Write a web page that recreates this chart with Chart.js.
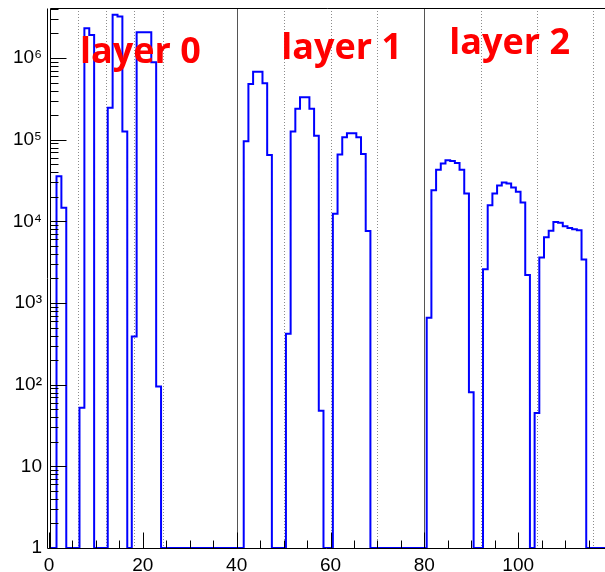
<!DOCTYPE html>
<html><head><meta charset="utf-8">
<script src="https://cdn.jsdelivr.net/npm/chart.js@4.4.0/dist/chart.umd.min.js"></script>
<style>html,body{margin:0;padding:0;background:#fff;} #wrap{width:605px;height:572px;position:relative;}</style>
</head><body><div id="wrap"><canvas id="c" width="605" height="572"></canvas></div>
<script>
// ---- data ----
// each group: first bin lower edge, bin width, and bin contents
const groupStart    = [1.6, 6.5, 12.52, 17.64, 41.5, 50.5, 60.5, 80.5, 92.5, 103.5];
const groupBinWidth = [1.04, 1.04, 1.04, 1.04, 1, 1, 1, 1, 1, 1];
const groupCounts = [
  [35700, 14700],
  [52, 2.32e6, 1.92e6],
  [2.46e5, 3.38e6, 3.22e6, 1.26e5],
  [390, 2.07e6, 2.07e6, 2.07e6, 8.9e5, 95],
  [9.6e4, 4.8e5, 6.8e5, 6.8e5, 4.9e5, 6.5e4],
  [420, 1.26e5, 2.4e5, 3.3e5, 3.3e5, 2.4e5, 1.12e5, 48],
  [1.24e4, 6.6e4, 1.07e5, 1.2e5, 1.2e5, 1.07e5, 6.7e4, 7.6e3],
  [660, 2.4e4, 4.3e4, 5.1e4, 5.6e4, 5.5e4, 5.2e4, 4.3e4, 2.2e4, 81],
  [2.6e3, 1.57e4, 2.2e4, 2.75e4, 3.0e4, 2.9e4, 2.6e4, 2.3e4, 1.7e4, 2.2e3],
  [45, 3.6e3, 6.4e3, 7.7e3, 9.8e3, 9.6e3, 8.7e3, 8.3e3, 8.0e3, 7.8e3, 3.4e3]
];
const layerNames = ['layer 0', 'layer 1', 'layer 2'];
const layerBoundaries = [40, 80];
const moduleBoundaries = [6.15, 12.18, 18.2, 24.2, 50, 60, 70, 92, 104, 116];
const xTickValues = [0, 20, 40, 60, 80, 100];
const yTickValues = [1, 10, 100, 1000, 10000, 100000, 1000000];
const yTickText = ['1', '10', '10²', '10³', '10⁴', '10⁵', '10⁶'];

const X_MIN = 0, X_MAX = 118.5, Y_MIN = 1, Y_MAX = 4.1e6;

function buildOutline() {
  const pts = [{x: X_MIN, y: Y_MIN}];
  groupStart.forEach((s, g) => {
    const w = groupBinWidth[g], c = groupCounts[g];
    pts.push({x: s, y: Y_MIN});
    c.forEach((v, i) => { pts.push({x: s + i * w, y: v}); pts.push({x: s + (i + 1) * w, y: v}); });
    pts.push({x: s + c.length * w, y: Y_MIN});
  });
  pts.push({x: X_MAX, y: Y_MIN});
  return pts;
}

const decor = {
  id: 'decor',
  beforeDatasetsDraw(chart) {
    const {ctx, chartArea: a, scales: {x}} = chart;
    ctx.save();
    ctx.lineWidth = 1;
    ctx.strokeStyle = '#8c8c8c';
    ctx.setLineDash([1, 2]);
    moduleBoundaries.forEach(v => {
      const px = Math.round(x.getPixelForValue(v)) + 0.5;
      ctx.beginPath(); ctx.moveTo(px, a.top); ctx.lineTo(px, a.bottom); ctx.stroke();
    });
    ctx.setLineDash([]);
    ctx.strokeStyle = '#555';
    layerBoundaries.forEach(v => {
      const px = Math.round(x.getPixelForValue(v)) + 0.5;
      ctx.beginPath(); ctx.moveTo(px, a.top); ctx.lineTo(px, a.bottom); ctx.stroke();
    });
    ctx.restore();
  },
  afterDatasetsDraw(chart) {
    const {ctx, chartArea: a, scales: {x, y}} = chart;
    ctx.save();
    ctx.strokeStyle = '#000';
    ctx.lineWidth = 1;
    const L = Math.round(a.left) + 0.5, B = Math.round(a.bottom) + 0.5, T = Math.round(a.top) + 0.5;
    ctx.beginPath();
    ctx.moveTo(L - 2, B); ctx.lineTo(L - 2, T);
    ctx.moveTo(L + 1, B); ctx.lineTo(L + 1, T); ctx.lineTo(a.right, T);
    ctx.moveTo(L - 2, B); ctx.lineTo(a.right, B);
    ctx.stroke();
    // x ticks (inward)
    ctx.beginPath();
    for (let v = 0; v <= X_MAX; v += 5) {
      const px = Math.round(x.getPixelForValue(v)) + 0.5;
      const len = (v % 20 === 0) ? 16 : 8;
      ctx.moveTo(px, B); ctx.lineTo(px, B - len);
    }
    // y ticks (inward)
    for (let k = 0; k <= 6; k++) {
      for (let m = 1; m <= 9; m++) {
        const v = m * Math.pow(10, k);
        if (v > Y_MAX) break;
        const py = Math.round(y.getPixelForValue(v)) + 0.5;
        const len = (m === 1) ? 16 : 8;
        ctx.moveTo(L + 1, py); ctx.lineTo(L + 1 + len, py);
      }
    }
    ctx.stroke();
    ctx.restore();
  },
  afterDraw(chart) {
    const {ctx, scales: {x, y}} = chart;
    const anchors = chart.options.plugins.decor.anchors;
    ctx.save();
    ctx.fillStyle = '#ff0000';
    ctx.font = 'bold 36px "Open Sans"';
    ctx.textBaseline = 'alphabetic';
    ctx.textAlign = 'left';
    layerNames.forEach((t, i) => {
      ctx.fillText(t, x.getPixelForValue(anchors[i][0]), y.getPixelForValue(anchors[i][1]));
    });
    ctx.restore();
  }
};

Chart.defaults.font.family = '"Liberation Sans", Arial, sans-serif';
Chart.defaults.color = '#000';

new Chart(document.getElementById('c'), {
  type: 'line',
  data: {
    datasets: [{
      data: buildOutline(),
      borderColor: 'rgb(0,0,255)',
      borderWidth: 2,
      pointRadius: 0,
      fill: false,
      tension: 0
    }]
  },
  options: {
    responsive: false,
    devicePixelRatio: 1,
    animation: false,
    layout: {padding: {top: 8, right: 0, left: 0, bottom: 0}},
    plugins: {
      legend: {display: false},
      tooltip: {enabled: false},
      decor: {anchors: [[6.6, 8.8e5], [49.5, 9.8e5], [85.3, 1.12e6]]}
    },
    scales: {
      x: {
        type: 'linear', min: X_MIN, max: X_MAX,
        grid: {display: false, drawTicks: false},
        border: {display: false},
        ticks: {
          stepSize: 20, includeBounds: false, autoSkip: false, maxRotation: 0,
          padding: 6, font: {size: 19},
          callback: (v) => xTickValues.includes(v) ? String(v) : ''
        },
        afterFit: (s) => { s.height = 24; s.paddingLeft = 0; s.paddingRight = 0; }
      },
      y: {
        type: 'logarithmic', min: Y_MIN, max: Y_MAX,
        grid: {display: false, drawTicks: false},
        border: {display: false},
        ticks: {
          autoSkip: false, padding: 7, font: {size: 19},
          callback: (v) => {
            const i = yTickValues.findIndex(t => Math.abs(Math.log10(t) - Math.log10(v)) < 1e-6);
            return i >= 0 ? yTickText[i] : '';
          }
        },
        afterFit: (s) => { s.width = 49; s.paddingTop = 0; s.paddingBottom = 0; }
      }
    }
  },
  plugins: [decor]
});
</script>
</body></html>
